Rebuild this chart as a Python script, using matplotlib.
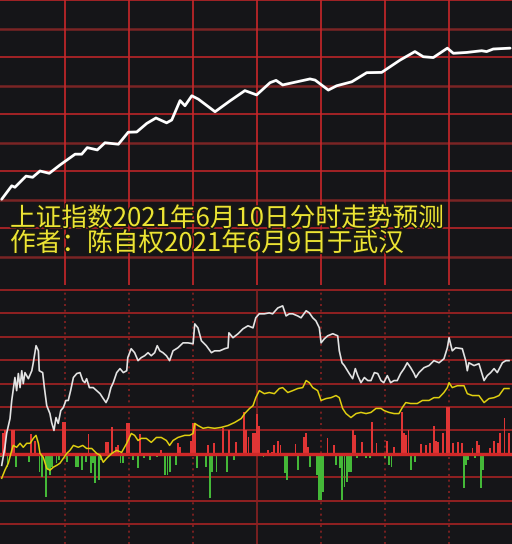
import numpy as np
import matplotlib.pyplot as plt
from matplotlib import patheffects

plt.rcParams['font.family'] = ['Noto Sans CJK SC', 'DejaVu Sans']

# 预测走势 (上半部分), 单位 = 网格格数
pred_t = [0.3, 5.0, 6.5, 11.7, 14.8, 18.25, 22.6, 27.6, 34.7, 37.8, 40.4, 45.1,
          48.7, 55.0, 59.6, 63.6, 68.3, 72.6, 77.6, 80.0, 83.9, 86.2, 89.4, 92.5,
          100.3, 107.3, 114.3, 119.8, 126.1, 128.9, 132.0, 144.8, 147.2, 153.4,
          157.3, 164.4, 171.4, 178.4, 187.0, 194.0, 197.9, 202.6, 209.2, 212.0,
          218.3, 225.3, 227.6, 230.7, 238.6]
pred_v = [3.01, 3.48, 3.43, 3.82, 3.78, 4.00, 3.92, 4.21, 4.59, 4.59, 4.82, 4.74,
          4.99, 4.94, 5.36, 5.37, 5.67, 5.86, 5.69, 5.79, 6.47, 6.29, 6.64, 6.52,
          6.08, 6.46, 6.82, 6.67, 7.10, 7.18, 7.02, 7.23, 7.19, 6.84,
          6.99, 7.13, 7.45, 7.46, 7.89, 8.19, 8.01, 7.98, 8.31, 8.13,
          8.16, 8.22, 8.19, 8.28, 8.31]

# 实际分时 (下半部分): 白线
price_t = [0.3, 1.8, 2.6, 4.2, 5.0, 6.5, 7.3, 8.1, 8.9, 9.7, 10.4, 11.2, 12.8, 14.4,
           15.1, 16.4, 17.5, 17.9, 19.5, 20.3, 21.4, 22.9, 23.7, 24.8, 25.75, 26.8,
           28.0, 29.2, 30.4, 31.5, 32.6, 33.9, 35.5, 37.0, 38.3, 39.3, 40.1, 41.4,
           43.2, 44.8, 46.4, 47.9, 49.2, 50.3, 51.5, 52.6, 54.2, 55.75, 57.3, 58.9,
           59.4, 61.0, 62.6, 64.2, 65.7, 67.3, 68.9, 70.4, 72.0, 73.2, 74.4, 75.9,
           77.5, 79.0, 80.6, 82.9, 85.3, 87.6, 90.0, 90.8, 92.3, 93.9, 96.2, 98.6,
           100.1, 102.5, 104.8, 106.4, 106.8, 108.7, 111.1, 113.4, 115.75, 118.1,
           119.4, 121.0, 123.4, 125.7, 127.3, 129.7, 132.0, 133.6, 135.1, 136.7,
           139.05, 140.6, 143.0, 144.5, 146.1, 147.6, 149.2, 150.0, 151.5, 153.1,
           155.5, 157.8, 158.55, 159.8, 160.9, 163.2, 164.8, 166.05, 167.2, 168.7,
           170.3, 171.9, 173.4, 175.0, 176.55, 178.1, 179.4, 181.05, 182.6, 184.2,
           185.7, 187.3, 188.9, 190.4, 192.0, 193.6, 194.4, 195.9, 198.25, 200.6,
           202.9, 205.3, 207.6, 209.2, 210.0, 211.5, 213.1, 216.2, 217.8, 218.55,
           219.3, 221.7, 224.0, 226.4, 227.9, 229.5, 231.1, 232.6, 235.0, 236.6, 238.1]
price_v = [-0.49, 0.28, 0.87, 1.51, 2.28, 3.26, 2.70, 3.43, 2.83, 3.55, 3.00, 3.47, 3.21, 3.55,
           3.89, 4.62, 4.40, 3.55, 3.47, 2.83, 2.06, 1.72, 1.34, 1.00, 1.55, 1.30,
           1.85, 1.98, 2.28, 2.28, 2.70, 3.26, 3.43, 3.47, 3.13, 3.04, 3.21, 2.83,
           2.83, 2.70, 2.57, 2.36, 2.19, 2.40, 2.83, 3.04, 3.47, 3.64, 3.47, 3.55,
           4.11, 4.49, 4.32, 3.98, 4.11, 4.19, 4.32, 4.19, 4.32, 4.62, 4.40, 4.32,
           4.19, 3.98, 4.40, 4.53, 4.74, 4.74, 4.70, 5.55, 5.38, 4.83, 4.62, 4.32,
           4.40, 4.40, 4.49, 4.53, 5.17, 4.96, 5.13, 5.34, 5.47, 5.38,
           5.81, 5.98, 5.98, 6.02, 5.98, 6.23, 6.32, 5.89, 5.98, 5.98,
           5.89, 5.81, 6.11, 6.02, 5.81, 5.68, 5.38, 4.74, 4.91, 5.04,
           5.13, 5.04, 4.40, 3.89, 3.77, 3.43, 3.21, 3.64, 3.34, 3.04,
           3.26, 3.13, 3.13, 3.47, 3.43, 3.13, 3.04, 3.34, 3.04, 3.13,
           3.13, 3.43, 3.64, 3.89, 3.68, 3.43, 3.26, 3.47, 3.68, 3.77,
           3.98, 3.89, 4.06, 4.53, 4.96, 4.40, 4.53, 4.49, 3.98, 3.55,
           3.89, 3.77, 3.85, 3.13, 3.34, 3.47, 3.64, 3.47, 3.89, 3.98, 3.98]

# 黄线
avg_t = [0.3, 1.8, 3.4, 5.0, 5.7, 7.3, 8.9, 10.4, 12.0, 13.6, 15.1, 16.4, 17.5, 18.25,
         19.8, 21.4, 22.9, 24.5, 26.1, 27.6, 29.2, 30.8, 32.3, 33.9, 36.2, 38.3,
         40.1, 42.5, 44.8, 46.4, 47.9, 49.5, 51.9, 54.2, 56.5, 58.9, 61.05, 62.6,
         64.2, 65.7, 68.1, 70.4, 72.8, 75.1, 77.5, 79.0, 80.6, 82.9, 86.1, 88.4,
         90.0, 90.8, 92.3, 94.7, 97.0, 100.1, 103.2, 106.4, 109.5, 112.6, 114.2,
         116.5, 118.1, 119.4, 121.05, 123.4, 125.7, 128.1, 130.4, 132.0, 134.4,
         136.7, 139.05, 141.4, 143.0, 144.5, 146.1, 148.4, 150.0, 152.3, 154.7,
         157.0, 158.55, 160.1, 161.7, 164.0, 166.4, 168.7, 171.1, 173.4, 175.75,
         178.1, 179.5, 181.8, 184.2, 186.5, 188.1, 189.7, 192.0, 195.1, 197.5,
         200.6, 202.9, 205.3, 207.6, 209.2, 210.0, 211.5, 213.9, 217.0, 218.55,
         220.9, 224.0, 226.4, 228.7, 231.1, 233.4, 235.75, 238.1]
avg_v = [-1.04, -0.70, -0.40, 0.15, 0.36, 0.28, 0.45, 0.28, 0.45, 0.45, 0.66, 0.79, 0.45, 0.02,
         -0.15, -0.62, -0.70, -0.57, -0.49, -0.40, -0.19, 0.02, 0.15, 0.36, 0.28, 0.36,
         0.23, 0.23, 0.02, -0.06, -0.36, -0.19, 0.02, 0.15, 0.06, 0.45, 0.87, 0.79,
         0.57, 0.66, 0.66, 0.49, 0.70, 0.70, 0.57, 0.36, 0.57, 0.70, 0.79, 0.79,
         0.87, 1.30, 1.21, 1.09, 1.13, 1.09, 1.13, 1.21, 1.34, 1.51, 1.72,
         1.94, 2.06, 2.40, 2.70, 2.57, 2.62, 2.57, 2.79, 2.83, 2.62,
         2.70, 2.79, 2.83, 3.13, 3.04, 2.83, 2.70, 2.28, 2.36, 2.40,
         2.49, 2.40, 1.94, 1.72, 1.55, 1.72, 1.77, 1.72, 1.77, 1.94,
         1.94, 1.85, 1.77, 1.72, 1.72, 1.98, 2.19, 2.15, 2.15, 2.28,
         2.28, 2.40, 2.40, 2.62, 2.83, 3.04, 2.83, 2.91, 2.91, 2.57,
         2.49, 2.49, 2.19, 2.36, 2.40, 2.49, 2.79, 2.79]

# 红绿柱
red_t = [1, 2, 5, 6, 14, 16, 29, 30, 41, 49, 50, 52, 54, 55, 59, 60, 65, 75, 83, 84,
         89, 90, 91, 97, 100, 104, 107, 110, 114, 115, 116, 118, 119, 120, 121, 125,
         127, 128, 130, 131, 138, 142, 143, 144, 153, 156, 165, 166, 169, 174, 176,
         181, 184, 188, 189, 190, 191, 197, 199, 201, 203, 204, 205, 207, 209, 210,
         212, 214, 216, 221, 223, 224, 229, 231, 233, 234, 236, 238]
red_v = [0.87, 1.00, 1.00, 1.00, 0.83, 0.57, 1.34, 1.34, 0.83, 0.49, 0.49, 1.13, 0.28, 0.36,
         1.30, 1.30, 0.83, 0.15, 0.45, 0.28, 0.57, 1.30, 1.30, 0.36, 0.45, 1.09, 1.00,
         0.49, 1.77, 1.00, 0.70, 0.91, 0.91, 1.72, 1.21, 0.15, 0.06, 0.36, 0.57, 0.36,
         0.40, 0.70, 0.87, 0.28, 0.66, 0.36, 1.00, 0.79, 0.49, 1.34, 0.45, 0.57, 0.28,
         1.77, 0.87, 0.79, 1.00, 0.40, 0.36, 0.45, 1.21, 0.57, 0.49, 0.87, 1.98, 1.98,
         0.45, 0.49, 0.45, 0.23, 0.57, 0.36, 0.23, 0.57, 0.45, 0.91, 1.51, 0.87]
green_t = [0, 3, 7, 10, 13, 18, 19, 21, 22, 23, 24, 26, 27, 31, 35, 36, 38, 40, 42, 43,
           44, 46, 47, 56, 57, 62, 64, 67, 70, 73, 77, 78, 79, 82, 92, 96, 98, 99, 101,
           106, 109, 123, 133, 134, 139, 145, 148, 149, 150, 151, 157, 159, 160, 161,
           162, 163, 164, 167, 171, 173, 180, 182, 183, 192, 194, 217, 218, 219, 222,
           225, 226]
green_v = [-0.15, -0.57, -0.57, -0.11, -0.36, -0.79, -1.00, -1.85, -0.70, -0.91, -0.57,
           -0.40, -0.28, -0.36, -0.57, -0.57, -0.70, -0.36, -0.83, -0.40, -1.26, -1.13,
           -0.28, -0.40, -0.40, -0.28, -0.62, -0.19, -0.28, -0.15, -0.91, -0.91, -0.79,
           -0.49, -0.62, -0.57, -1.89, -0.79, -0.79, -0.79, -0.28, -0.15, -0.83, -1.13,
           -0.70, -0.57, -0.91, -1.98, -1.98, -1.64, -0.49, -0.62, -1.98, -1.43, -1.20,
           -0.79, -0.79, -0.19, -0.19, -0.19, -0.19, -0.49, -0.57, -0.70, -0.36, -1.47,
           -0.49, -0.28, -0.19, -1.47, -0.70]

title1 = '上证指数2021年6月10日分时走势预测'
title2 = '作者：陈自权2021年6月9日于武汉'

BG = '#151518'
RED = '#c8262a'
DARKRED = '#7a2424'

fig = plt.figure(figsize=(5.12, 5.44), dpi=100, facecolor=BG)

# 上半部分: 预测
ax1 = fig.add_axes([0, 1 - 285 / 544, 1, 285 / 544])
ax1.set_facecolor(BG)
ax1.set_xlim(-0.5, 239.5)
ax1.set_ylim(0, 10)
for k in range(1, 11):
    if k % 2 == 1:
        ax1.axhline(k, color=DARKRED, lw=1.8, zorder=1)
    else:
        ax1.axhline(k, color=RED, lw=1.1, zorder=1)
for m in range(30, 240, 30):
    ax1.axvline(m, color=RED, lw=1.2, zorder=1)
ax1.plot(pred_t, pred_v, color='white', lw=2.0, solid_joinstyle='round',
         solid_capstyle='round', zorder=3)
stroke = [patheffects.withStroke(linewidth=2.2, foreground='#1a1a10')]
ax1.text(10 / 512, (285 - 219) / 285, title1, transform=ax1.transAxes,
         color='#ece434', fontsize=18.5, va='center', ha='left',
         path_effects=stroke, zorder=4)
ax1.text(10 / 512, (285 - 244) / 285, title2, transform=ax1.transAxes,
         color='#ece434', fontsize=18.5, va='center', ha='left',
         path_effects=stroke, zorder=4)
ax1.set_xticks([])
ax1.set_yticks([])
for s in ax1.spines.values():
    s.set_visible(False)

# 下半部分: 实际分时
ax2 = fig.add_axes([0, 0, 1, (544 - 289) / 544])
ax2.set_facecolor(BG)
ax2.set_xlim(-0.5, 239.5)
ax2.set_ylim(-3.85, 7.04)
for k in range(-3, 8):
    if k == 0:
        continue
    ax2.axhline(k, color='#9a2222', lw=1.3, zorder=1)
for m in range(30, 240, 30):
    if m == 120:
        ax2.axvline(m, color='#8a2222', lw=1.2, zorder=1)
    else:
        ax2.axvline(m, color='#8a2222', lw=1.2, ls=(0, (1.2, 2.2)), zorder=1)
ax2.bar(red_t, red_v, width=0.9, color='#e03535', zorder=2)
ax2.bar(green_t, green_v, width=0.9, color='#44b838', zorder=2)
ax2.axhline(0, color='#d02828', lw=2.4, zorder=2)
ax2.plot(avg_t, avg_v, color='#e0d010', lw=1.1, zorder=3)
ax2.plot(price_t, price_v, color='#e4e4e4', lw=1.2, zorder=4)
ax2.set_xticks([])
ax2.set_yticks([])
for s in ax2.spines.values():
    s.set_visible(False)

fig.savefig('out.png', dpi=100, facecolor=BG)
